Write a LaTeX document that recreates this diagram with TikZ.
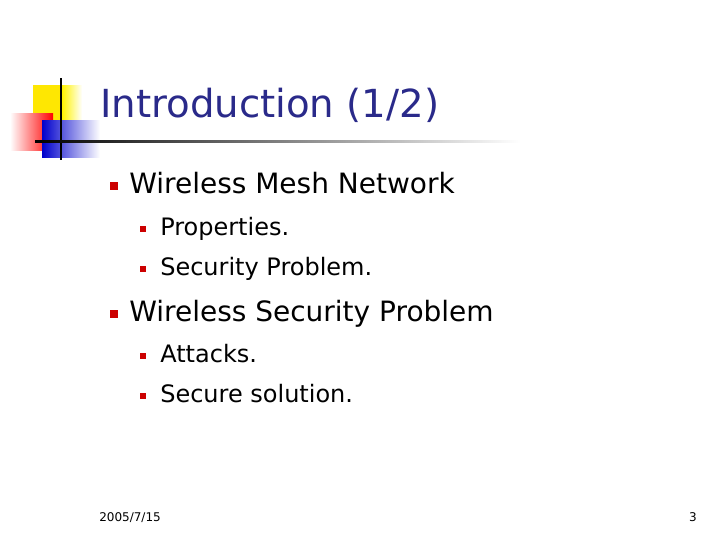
\documentclass[tikz,border=0pt]{standalone}
\usepackage{fontspec}
\setmainfont{DejaVu Sans}
\definecolor{navy}{HTML}{2A2A8A}
\definecolor{bred}{HTML}{CC0000}
\begin{document}
\begin{tikzpicture}[x=0.75pt,y=-0.75pt,
  t1/.style={anchor=base west,inner sep=0,font=\fontsize{21}{24}\selectfont},
  t2/.style={anchor=base west,inner sep=0,font=\fontsize{18}{21}\selectfont},
  b1/.style={fill=bred,inner sep=0,minimum size=6pt},
  b2/.style={fill=bred,inner sep=0,minimum size=5pt}]
\path[use as bounding box,fill=white] (0,0) rectangle (720,540);
\fill[yellow!90!orange] (33,85) rectangle (62,122);
\shade[left color=yellow!90!orange,right color=white] (62,85) rectangle (82,122);
\shade[left color=white,right color=red] (10,113) rectangle (53,150);
\shade[left color=blue!80!black,right color=white] (42,120) rectangle (100,157);
\draw[line width=1.5pt] (61,78) -- (61,160);
\shade[left color=black,right color=white] (35,140) rectangle (520,142.5);
\node[anchor=base west,inner sep=0,text=navy,font=\fontsize{29}{34}\selectfont] (title) at (100,117) {Introduction (1/2)};
\node[b1] (p1) at (114,186) {};
\node[t1] (l1) at (129,193) {Wireless Mesh Network};
\node[b2] (p2) at (143,229) {};
\node[t2] (l2) at (160,235) {Properties.};
\node[b2] (p3) at (143,269) {};
\node[t2] (l3) at (160,275) {Security Problem.};
\node[b1] (p4) at (114,314) {};
\node[t1] (l4) at (129,321) {Wireless Security Problem};
\node[b2] (p5) at (143,356) {};
\node[t2] (l5) at (160,362) {Attacks.};
\node[b2] (p6) at (143,396) {};
\node[t2] (l6) at (160,402) {Secure solution.};
\node[anchor=base west,inner sep=0,font=\fontsize{9}{11}\selectfont] (date) at (99,521) {2005/7/15};
\node[anchor=base east,inner sep=0,font=\fontsize{9}{11}\selectfont] (pg) at (697,521) {3};
\end{tikzpicture}
\end{document}
